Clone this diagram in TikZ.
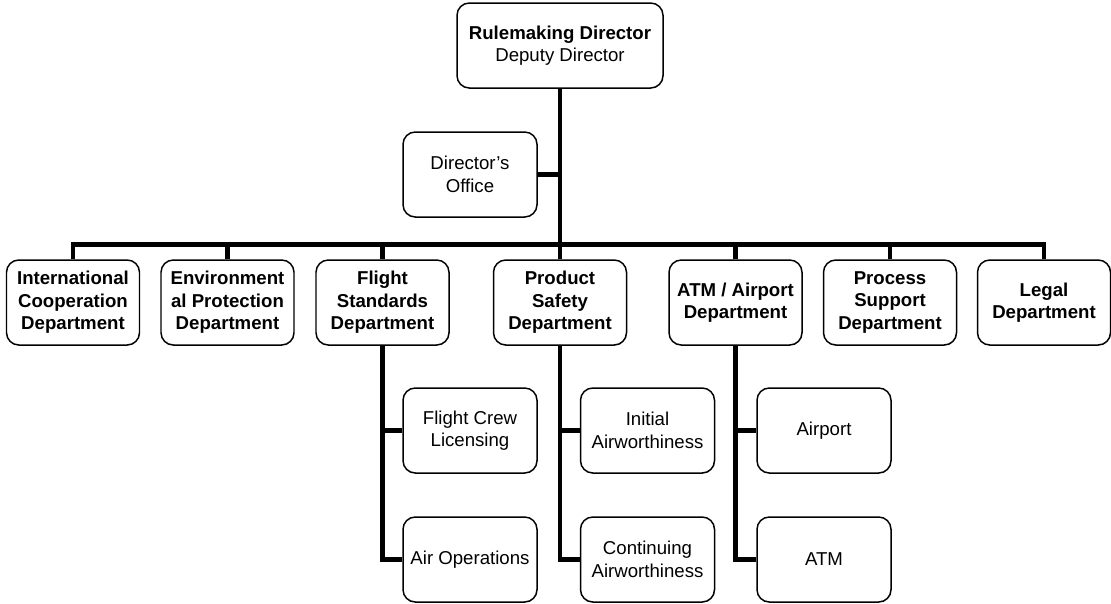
\documentclass[tikz,border=0pt]{standalone}
\usepackage{fontspec}
\setmainfont{Liberation Sans}
\usepackage{tikz}
\usetikzlibrary{positioning, calc}

\tikzset{
  box/.style={draw, line width=0.85pt, rounded corners=7pt, fill=white, align=center,
    minimum width=2.68cm, minimum height=1.70cm, inner sep=2pt,
    font=\fontsize{10.6}{12.8}\selectfont},
  dept/.style={box, minimum width=2.66cm, font=\fontsize{10.6}{12.8}\selectfont\bfseries},
  conn/.style={line width=2.6pt}
}

\begin{document}
\begin{tikzpicture}
  \useasboundingbox (0,0) rectangle (22.22,-12.06);

  % Head
  \node[box, minimum width=4.12cm] (head) at (11.2, -0.91) {\textbf{Rulemaking Director}\\Deputy Director};
  \node[box] (office) at (9.4, -3.49) {Director's\\Office};

  % Departments
  \node[dept] (intl) at (1.46, -6.05) {International\\Cooperation\\Department};
  \node[dept] (env) at (4.55, -6.05) {Environment\\al Protection\\Department};
  \node[dept] (flight) at (7.65, -6.05) {Flight\\Standards\\Department};
  \node[dept] (product) at (11.2, -6.05) {Product\\Safety\\Department};
  \node[dept] (atm) at (14.71, -6.05) {ATM / Airport\\Department};
  \node[dept] (process) at (17.80, -6.05) {Process\\Support\\Department};
  \node[dept] (legal) at (20.88, -6.05) {Legal\\Department};

  % Units
  \node[box] (crew) at (9.4, -8.61) {Flight Crew\\Licensing};
  \node[box] (airops) at (9.4, -11.19) {Air Operations};
  \node[box] (initial) at (12.95, -8.61) {Initial\\Airworthiness};
  \node[box] (continuing) at (12.95, -11.19) {Continuing\\Airworthiness};
  \node[box] (airport) at (16.48, -8.61) {Airport};
  \node[box] (atmunit) at (16.48, -11.19) {ATM};

  % Connectors
  \draw[conn] (head.south) -- (product.north);
  \draw[conn] (office.east) -- (office.east -| head.south);
  \draw[conn] (intl.north) -- ++(0, 0.3) -| (legal.north);
  \foreach \d in {env, flight, atm, process}
    \draw[conn] (\d.north) -- ++(0, 0.3);
  \draw[conn] (flight.south) |- (crew.west);
  \draw[conn] (flight.south) |- (airops.west);
  \draw[conn] (product.south) |- (initial.west);
  \draw[conn] (product.south) |- (continuing.west);
  \draw[conn] (atm.south) |- (airport.west);
  \draw[conn] (atm.south) |- (atmunit.west);
\end{tikzpicture}
\end{document}
